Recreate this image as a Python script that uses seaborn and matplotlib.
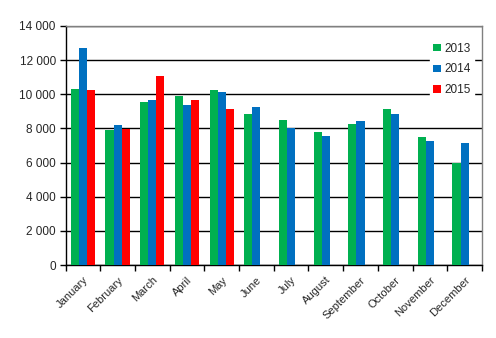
import matplotlib
matplotlib.use("Agg")
import matplotlib.pyplot as plt
import matplotlib.ticker as mticker
import seaborn as sns
import pandas as pd
import numpy as np

months = ["January", "February", "March", "April", "May", "June", "July",
          "August", "September", "October", "November", "December"]
v2013 = [10300, 7900, 9550, 9900, 10250, 8850, 8500, 7790, 8260, 9140, 7500, 5980]
v2014 = [12700, 8200, 9670, 9370, 10140, 9260, 8030, 7560, 8440, 8850, 7270, 7150]
v2015 = [10250, 7980, 11070, 9670, 9140]
years = ["2013", "2014", "2015"]
colors = ["#00B050", "#0070C0", "#FF0000"]

rows = []
for yr, vals in zip(years, [v2013, v2014, v2015]):
    for m, v in zip(months, vals):
        rows.append({"month": m, "year": yr, "value": v})
df = pd.DataFrame(rows)

sns.set_style("white")
plt.rcParams["font.family"] = ["Liberation Sans", "DejaVu Sans"]

fig = plt.figure(figsize=(4.96, 3.38), dpi=100)
ax = fig.add_axes([65.5 / 496, 1 - 265 / 338, (482 - 65.5) / 496, (265 - 26) / 338])

sns.barplot(data=df, x="month", y="value", hue="year", order=months,
            hue_order=years, palette=colors, width=0.7, saturation=1,
            errorbar=None, ax=ax, zorder=3, linewidth=0)

ax.set_ylim(0, 14000)
ax.set_xlim(-0.5, 11.5)
ax.set_yticks(np.arange(0, 14001, 2000))
ax.yaxis.set_major_formatter(mticker.FuncFormatter(lambda v, p: f"{int(v):,}".replace(",", " ")))
ax.grid(axis="y", color="black", linewidth=1, zorder=0)
ax.set_axisbelow(True)
ax.set_xlabel("")
ax.set_ylabel("")

ax.set_xticks(np.arange(12))
ax.set_xticklabels(months, rotation=45, ha="right", rotation_mode="anchor", fontsize=8)
ax.tick_params(axis="x", length=0, pad=7)
ax.set_xticks(np.arange(-0.5, 12, 1), minor=True)
ax.tick_params(axis="x", which="minor", length=4, width=1, color="black", direction="out", bottom=True)
ax.tick_params(axis="y", length=4, width=1, color="black", direction="out", left=True, labelsize=8.5, pad=3)

for s in ["left", "bottom"]:
    ax.spines[s].set_color("black")
    ax.spines[s].set_linewidth(1)
for s in ["top", "right"]:
    ax.spines[s].set_color("#808080")
    ax.spines[s].set_linewidth(1)
    ax.spines[s].set_visible(True)

leg = ax.legend(loc="upper right", bbox_to_anchor=(0.995, 0.97), frameon=True,
                fontsize=8.5, handlelength=0.6, handleheight=0.6, handletextpad=0.3,
                labelspacing=0.75, borderpad=0.3, title=None)
leg.get_frame().set_facecolor("white")
leg.get_frame().set_edgecolor("white")
leg.get_frame().set_alpha(1)
leg.set_zorder(5)

fig.savefig("out.png", dpi=100)
